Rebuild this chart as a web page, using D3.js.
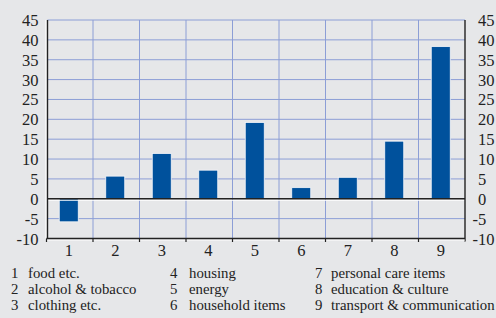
<!DOCTYPE html>
<meta charset="utf-8">
<head>
<style>
  body { margin: 0; background: #e6e7e9; }
  svg { display: block; }
  .tick-label { font-family: "Liberation Serif", "Times New Roman", serif; font-size: 16.5px; fill: #222; }
  .legend { font-family: "Liberation Serif", "Times New Roman", serif; font-size: 14.8px; fill: #222; }
</style>
</head>
<body>
<script src="https://d3js.org/d3.v7.min.js"></script>
<script>
// categories and values (percent change)
var categories = ["1", "2", "3", "4", "5", "6", "7", "8", "9"];
var values = [-5.8, 5.7, 11.4, 7.2, 19.2, 2.8, 5.4, 14.5, 38.3];
var yTicks = [-10, -5, 0, 5, 10, 15, 20, 25, 30, 35, 40, 45];
var legendNums = ["1", "2", "3", "4", "5", "6", "7", "8", "9"];
var legendNames = ["food etc.", "alcohol & tobacco", "clothing etc.",
                   "housing", "energy", "household items",
                   "personal care items", "education & culture", "transport & communication"];

var width = 496, height = 318;
var plotLeft = 47.5, plotRight = 465, plotTop = 20, plotBottom = 238.5;

var svg = d3.select("body").append("svg")
    .attr("width", width)
    .attr("height", height);

var x = d3.scaleBand()
    .domain(categories)
    .range([plotLeft - 1, plotRight])
    .padding(0);

var y = d3.scaleLinear()
    .domain([-10, 45])
    .range([plotBottom, plotTop]);

// horizontal grid
svg.append("g").selectAll("line")
    .data(yTicks.filter(function(d) { return d !== 0 && d !== -10; }))
  .enter().append("line")
    .attr("x1", plotLeft).attr("x2", plotRight)
    .attr("y1", function(d) { return y(d); })
    .attr("y2", function(d) { return y(d); })
    .attr("stroke", "#8c9ed6")
    .attr("stroke-width", 1);

// vertical grid at category boundaries
svg.append("g").selectAll("line")
    .data(categories.slice(1))
  .enter().append("line")
    .attr("x1", function(d) { return x(d); })
    .attr("x2", function(d) { return x(d); })
    .attr("y1", plotTop).attr("y2", plotBottom)
    .attr("stroke", "#8c9ed6")
    .attr("stroke-width", 1);

// bars
var bw = 19;
svg.append("g").selectAll("rect")
    .data(values)
  .enter().append("rect")
    .attr("x", function(d, i) { return x(categories[i]) + x.bandwidth() / 2 - bw / 2 - 1; })
    .attr("width", bw)
    .attr("y", function(d) { return y(Math.max(0, d)); })
    .attr("height", function(d) { return Math.abs(y(d) - y(0)); })
    .attr("fill", "#00519c")
    .attr("stroke", "#f4f6fa")
    .attr("stroke-width", 0.8);

// zero line with white shadow
svg.append("line")
    .attr("x1", plotLeft).attr("x2", plotRight)
    .attr("y1", y(0) + 1.5).attr("y2", y(0) + 1.5)
    .attr("stroke", "#fff").attr("stroke-width", 1.2);
svg.append("line")
    .attr("x1", plotLeft).attr("x2", plotRight)
    .attr("y1", y(0)).attr("y2", y(0))
    .attr("stroke", "#222").attr("stroke-width", 1.4);

// left and right axis lines
svg.append("line")
    .attr("x1", plotLeft - 1.5).attr("x2", plotLeft - 1.5)
    .attr("y1", plotTop).attr("y2", plotBottom + 1)
    .attr("stroke", "#fff").attr("stroke-width", 1.2);
svg.append("line")
    .attr("x1", plotLeft).attr("x2", plotLeft)
    .attr("y1", plotTop).attr("y2", plotBottom)
    .attr("stroke", "#222").attr("stroke-width", 1.4);
svg.append("line")
    .attr("x1", plotRight).attr("x2", plotRight)
    .attr("y1", plotTop).attr("y2", plotBottom + 3)
    .attr("stroke", "#222").attr("stroke-width", 1.4);

// bottom axis with ticks at boundaries
svg.append("line")
    .attr("x1", plotLeft - 1).attr("x2", plotRight)
    .attr("y1", plotBottom + 1.5).attr("y2", plotBottom + 1.5)
    .attr("stroke", "#fff").attr("stroke-width", 1.2);
svg.append("line")
    .attr("x1", plotLeft - 1).attr("x2", plotRight)
    .attr("y1", plotBottom).attr("y2", plotBottom)
    .attr("stroke", "#222").attr("stroke-width", 1.4);
svg.append("g").selectAll("line")
    .data(categories)
  .enter().append("line")
    .attr("x1", function(d) { return x(d); })
    .attr("x2", function(d) { return x(d); })
    .attr("y1", plotBottom).attr("y2", plotBottom + 3.5)
    .attr("stroke", "#222").attr("stroke-width", 1.2);

// x labels
svg.append("g").selectAll("text")
    .data(categories)
  .enter().append("text")
    .attr("class", "tick-label")
    .attr("x", function(d) { return x(d) + x.bandwidth() / 2 - 1; })
    .attr("y", 256)
    .attr("text-anchor", "middle")
    .text(function(d) { return d; });

// left y labels
svg.append("g").selectAll("text")
    .data(yTicks)
  .enter().append("text")
    .attr("class", "tick-label")
    .attr("x", 38.5)
    .attr("y", function(d) { return y(d) + 6; })
    .attr("text-anchor", "end")
    .text(function(d) { return d; });

// right y labels (minus sign hangs left)
svg.append("g").selectAll("text")
    .data(yTicks)
  .enter().append("text")
    .attr("class", "tick-label")
    .attr("x", function(d) { return d < 0 ? 472.5 : 478; })
    .attr("y", function(d) { return y(d) + 6; })
    .attr("text-anchor", "start")
    .text(function(d) { return d; });

// legend in three columns
var numX = [11, 170, 315], nameX = [28, 189, 331];
var legend = svg.append("g").selectAll("g")
    .data(legendNames)
  .enter().append("g");
legend.append("text")
    .attr("class", "legend")
    .attr("x", function(d, i) { return numX[Math.floor(i / 3)]; })
    .attr("y", function(d, i) { return 278 + (i % 3) * 16; })
    .text(function(d, i) { return legendNums[i]; });
legend.append("text")
    .attr("class", "legend")
    .attr("x", function(d, i) { return nameX[Math.floor(i / 3)]; })
    .attr("y", function(d, i) { return 278 + (i % 3) * 16; })
    .text(function(d) { return d; });
</script>
</body>
